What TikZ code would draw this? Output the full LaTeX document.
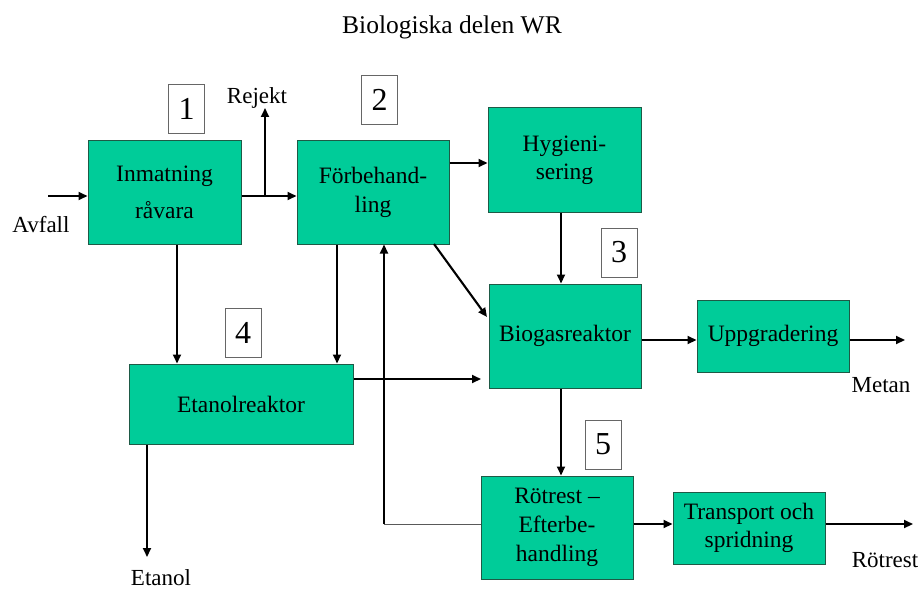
\documentclass[tikz,border=0pt]{standalone}
\usepackage{fontspec}
\setmainfont{Liberation Serif}
\usetikzlibrary{arrows.meta}
\definecolor{boxgreen}{RGB}{0,204,153}
\definecolor{boxedge}{RGB}{30,90,70}
\begin{document}
\begin{tikzpicture}[x=1pt,y=-1pt,
  proc/.style={draw=boxedge,line width=1pt,fill=boxgreen,inner sep=0pt,
    font=\fontsize{23.5}{29}\selectfont,align=center},
  numbox/.style={draw=gray!80!black,line width=0.8pt,fill=white,inner sep=0pt,
    minimum width=36pt,minimum height=49pt,font=\fontsize{32}{36}\selectfont},
  lbl/.style={font=\fontsize{23}{27}\selectfont,inner sep=0pt,anchor=base},
  arr/.style={line width=2.1pt,-{Triangle[length=9pt,width=8pt]}},
  thinln/.style={line width=1pt,draw=gray!70!black}]
\useasboundingbox (0,0) rectangle (920,591);

\node[lbl,font=\fontsize{25.5}{30}\selectfont] (title) at (452,34) {Biologiska delen WR};

% process boxes
\node[proc,minimum width=153pt,minimum height=104pt,font=\fontsize{23.5}{37}\selectfont] (inm) at (164.5,192) {Inmatning\\råvara};
\node[proc,minimum width=152pt,minimum height=104pt] (forb) at (373,192) {Förbehand-\\ling};
\node[proc,minimum width=153pt,minimum height=104pt,font=\fontsize{23.5}{28}\selectfont] (hyg) at (564.5,160) {Hygieni-\\sering};
\node[proc,minimum width=152pt,minimum height=104pt] (bio) at (565,336) {Biogasreaktor};
\node[proc,minimum width=152pt,minimum height=72pt] (upp) at (773,336) {Uppgradering};
\node[proc,minimum width=224pt,minimum height=80pt] (etan) at (241,404) {Etanolreaktor};
\node[proc,minimum width=152pt,minimum height=103pt] (rot) at (557,527.5) {Rötrest –\\Efterbe-\\handling};
\node[proc,minimum width=152pt,minimum height=72pt,font=\fontsize{23.5}{28}\selectfont] (tra) at (749,528) {Transport och\\spridning};

% number boxes
\node[numbox] (n1) at (186.5,108.5) {1};
\node[numbox] (n2) at (379.5,99.5) {2};
\node[numbox] (n3) at (619,252.5) {3};
\node[numbox] (n4) at (243,332.5) {4};
\node[numbox] (n5) at (603,444.5) {5};

% labels
\node[lbl] (avfall) at (41,232) {Avfall};
\node[lbl] (rejekt) at (257,104) {Rejekt};
\node[lbl] (metan) at (881,392) {Metan};
\node[lbl] (rotrest) at (885,567) {Rötrest};
\node[lbl] (etanol) at (161,585) {Etanol};

% free ends
\coordinate (avin) at (48,196);
\coordinate (rejsplit) at (265,196);
\coordinate (rejtop) at (265,108);
\coordinate (etout) at (481,379);
\coordinate (metout) at (905,340);
\coordinate (rotout) at (913,524);
\coordinate (etanolout) at (147,557);
\coordinate (diagstart) at (434,244);
\coordinate (diagend) at (487,317);
\coordinate (retx) at (384,524);

% connectors
\draw[arr] (avin) -- (avin -| inm.west);
\draw[arr] (avin -| inm.east) -- (avin -| forb.west);
\draw[arr] (rejsplit) -- (rejtop);
\draw[arr] (forb.east |- 0,163) -- (hyg.west |- 0,163);
\draw[arr] (hyg.south -| 561,0) -- (bio.north -| 561,0);
\draw[arr] (diagstart) -- (diagend);
\draw[arr] (inm.south -| 177,0) -- (etan.north -| 177,0);
\draw[arr] (forb.south -| 337,0) -- (etan.north -| 337,0);
\draw[arr] (etan.east |- etout) -- (etout);
\draw[arr] (bio.east |- 0,340) -- (upp.west |- 0,340);
\draw[arr] (upp.east |- metout) -- (metout);
\draw[arr] (bio.south -| 561,0) -- (rot.north -| 561,0);
\draw[thinln] (rot.west |- retx) -- (retx);
\draw[arr] (retx) -- (forb.south -| retx);
\draw[arr] (rot.east |- 0,524) -- (tra.west |- 0,524);
\draw[arr] (tra.east |- rotout) -- (rotout);
\draw[arr] (etan.south -| etanolout) -- (etanolout);
\end{tikzpicture}
\end{document}
